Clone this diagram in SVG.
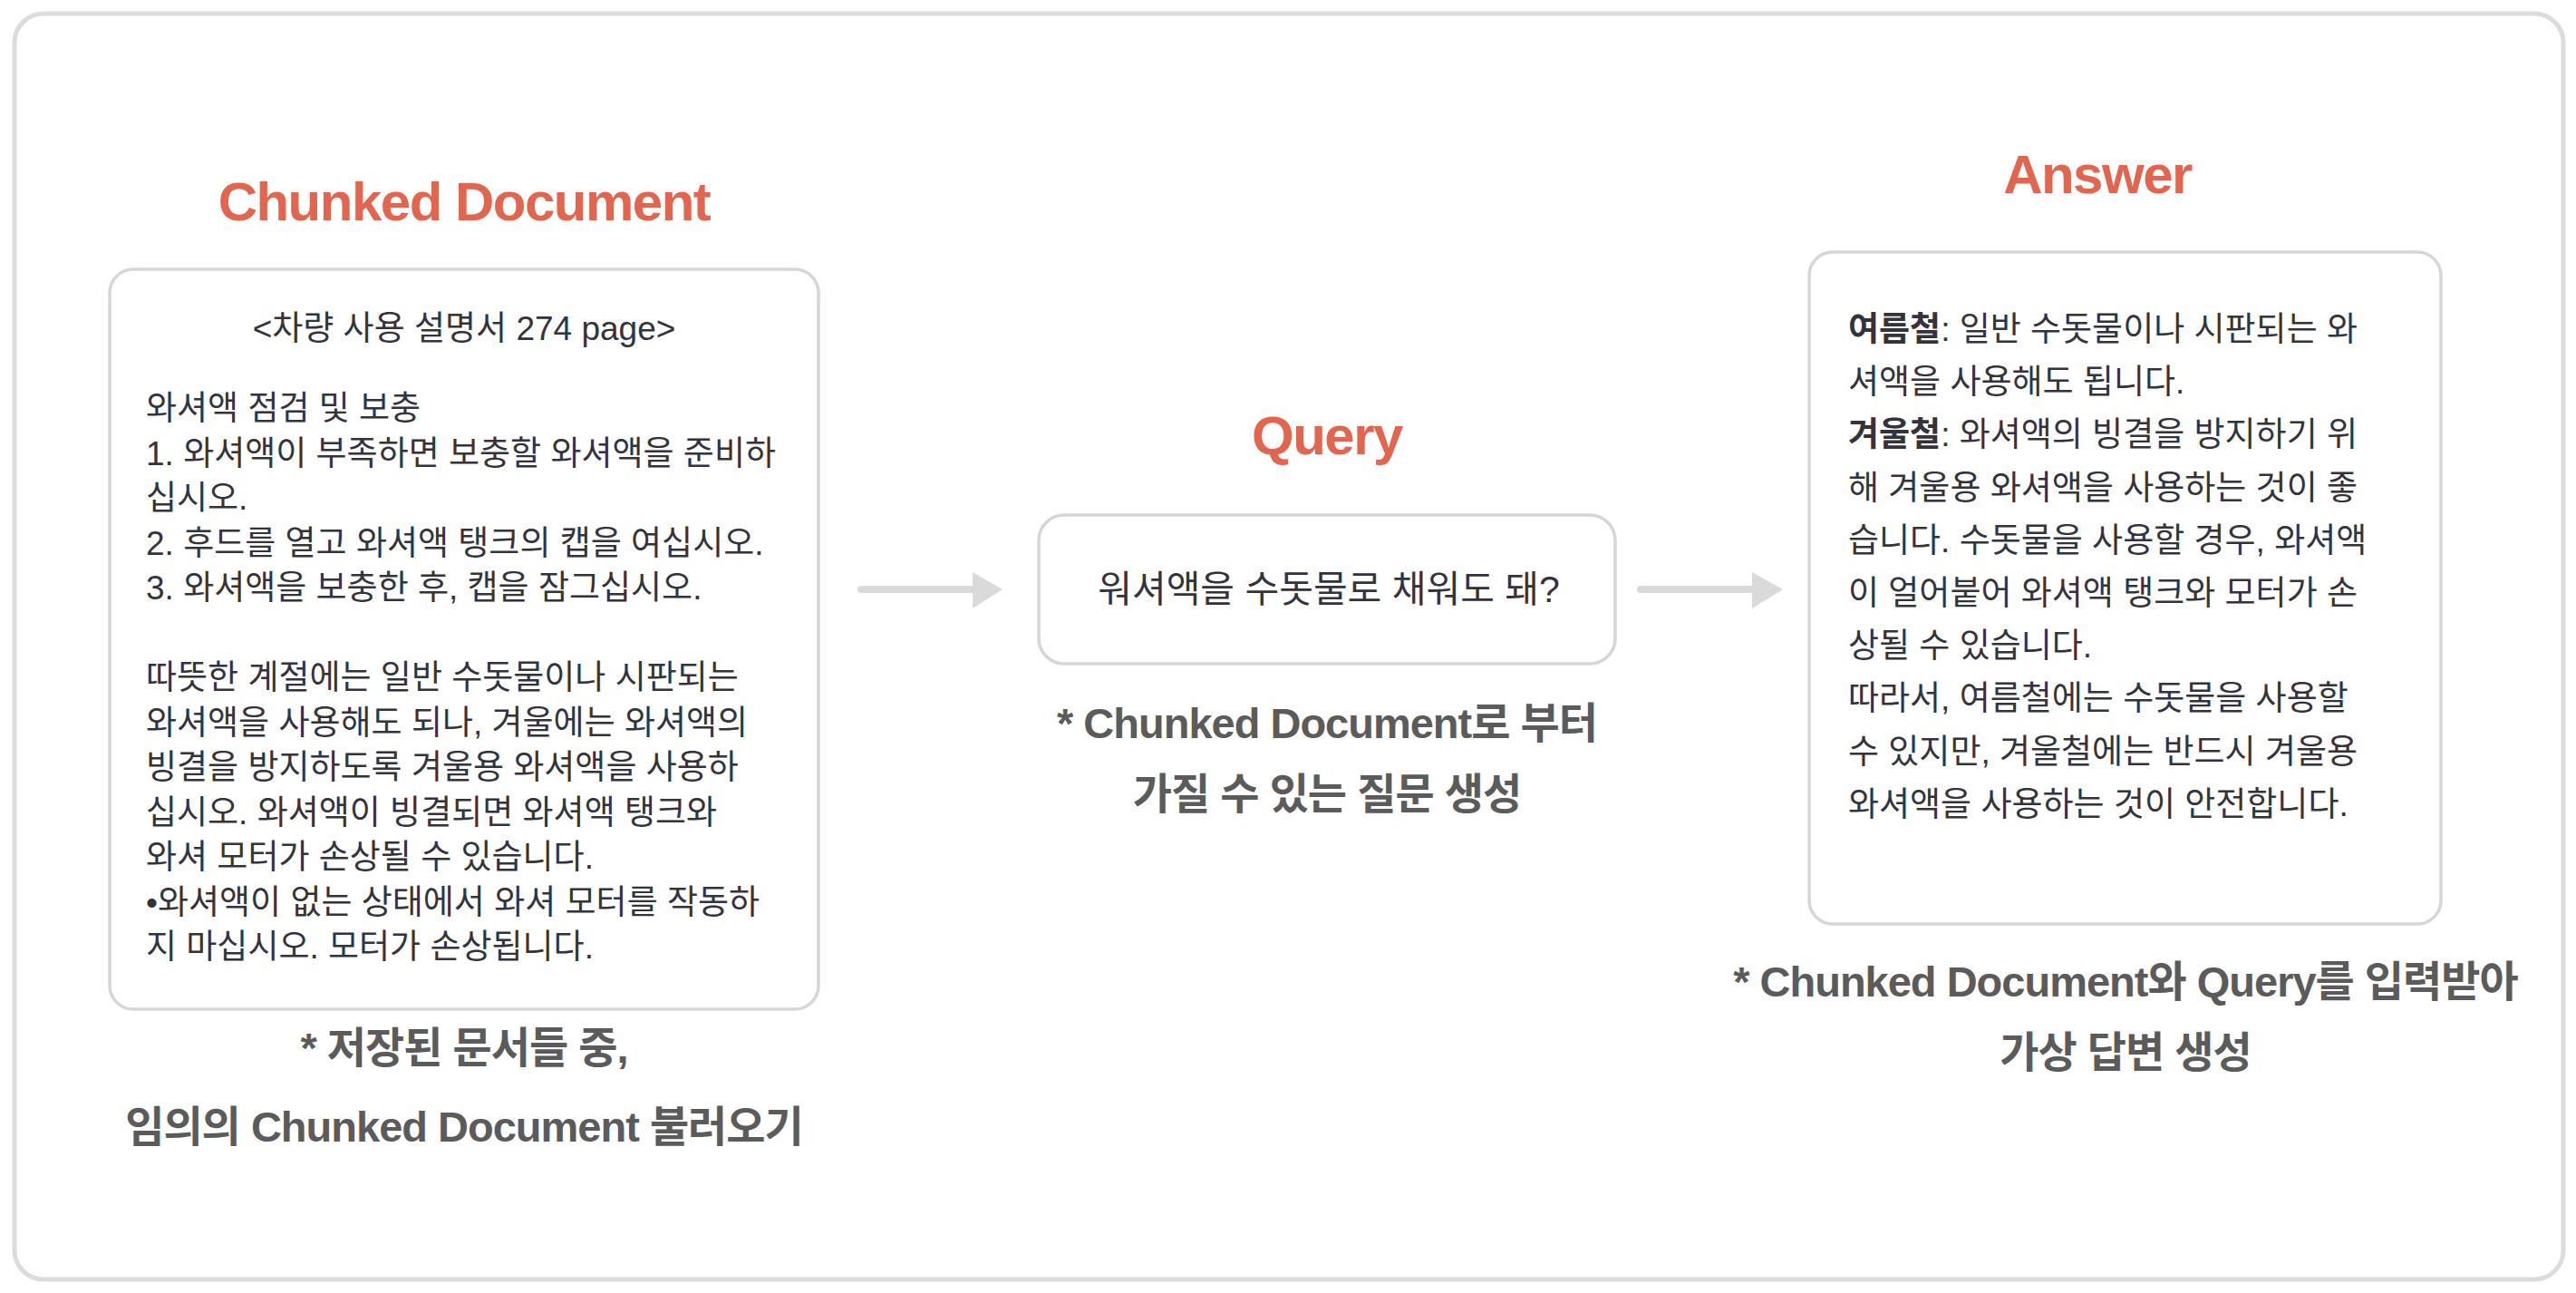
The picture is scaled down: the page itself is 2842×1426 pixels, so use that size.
<svg xmlns="http://www.w3.org/2000/svg" width="2842" height="1426" viewBox="0 0 2842 1426">
<style>
.title{font-family:"Liberation Sans","Noto Sans CJK KR",sans-serif;font-weight:bold;font-size:60px;fill:#E2654F;letter-spacing:-1.5px;text-anchor:middle}
.box{fill:#ffffff;stroke:#d6d6d6;stroke-width:3.5}
.body{font-family:"Liberation Sans","Noto Sans CJK KR",sans-serif;font-size:37px;fill:#33333d}
.qtext{font-family:"Liberation Sans","Noto Sans CJK KR",sans-serif;font-size:41px;fill:#33333d;text-anchor:middle}
.ans{font-family:"Liberation Sans","Noto Sans CJK KR",sans-serif;font-size:37px;fill:#33333d}
.cap{font-family:"Liberation Sans","Noto Sans CJK KR",sans-serif;font-weight:bold;font-size:47px;fill:#5b5b5b;letter-spacing:-1px;text-anchor:middle}
.arrow{stroke:#dadada;stroke-width:8;fill:none;stroke-linecap:round}
.head{fill:#dadada}
</style>
<rect x="0" y="0" width="2842" height="1426" fill="#ffffff"/>
<rect id="frame" x="16" y="15" width="2812" height="1396" rx="32" fill="none" stroke="#dcdcdc" stroke-width="5"/>

<g id="chunked-document">
<text class="title" x="512" y="243">Chunked Document</text>
<rect class="box" x="121" y="297" width="782" height="816" rx="26"/>
<text class="body" x="512" y="375" text-anchor="middle">&lt;차량 사용 설명서 274 page&gt;</text>
<text class="body" x="161" y="463">와셔액 점검 및 보충</text>
<text class="body" x="161" y="513">1. 와셔액이 부족하면 보충할 와셔액을 준비하</text>
<text class="body" x="161" y="562">십시오.</text>
<text class="body" x="161" y="612">2. 후드를 열고 와셔액 탱크의 캡을 여십시오.</text>
<text class="body" x="161" y="661">3. 와셔액을 보충한 후, 캡을 잠그십시오.</text>
<text class="body" x="161" y="760">따뜻한 계절에는 일반 수돗물이나 시판되는</text>
<text class="body" x="161" y="810">와셔액을 사용해도 되나, 겨울에는 와셔액의</text>
<text class="body" x="161" y="859">빙결을 방지하도록 겨울용 와셔액을 사용하</text>
<text class="body" x="161" y="909">십시오. 와셔액이 빙결되면 와셔액 탱크와</text>
<text class="body" x="161" y="958">와셔 모터가 손상될 수 있습니다.</text>
<text class="body" x="161" y="1008">•와셔액이 없는 상태에서 와셔 모터를 작동하</text>
<text class="body" x="161" y="1057">지 마십시오. 모터가 손상됩니다.</text>
<text class="cap" x="512" y="1172">* 저장된 문서들 중,</text>
<text class="cap" x="512" y="1259">임의의 Chunked Document 불러오기</text>
</g>

<g id="query">
<text class="title" x="1464" y="501">Query</text>
<rect class="box" x="1146" y="568" width="636" height="164" rx="28"/>
<text class="qtext" x="1466" y="664">워셔액을 수돗물로 채워도 돼?</text>
<text class="cap" x="1464" y="814">* Chunked Document로 부터</text>
<text class="cap" x="1464" y="892">가질 수 있는 질문 생성</text>
</g>

<g id="answer">
<text class="title" x="2314" y="213">Answer</text>
<rect class="box" x="1996" y="278" width="697" height="741" rx="26"/>
<text class="ans" x="2039" y="376"><tspan font-weight="bold">여름철</tspan>: 일반 수돗물이나 시판되는 와</text>
<text class="ans" x="2039" y="434">셔액을 사용해도 됩니다.</text>
<text class="ans" x="2039" y="492"><tspan font-weight="bold">겨울철</tspan>: 와셔액의 빙결을 방지하기 위</text>
<text class="ans" x="2039" y="551">해 겨울용 와셔액을 사용하는 것이 좋</text>
<text class="ans" x="2039" y="609">습니다. 수돗물을 사용할 경우, 와셔액</text>
<text class="ans" x="2039" y="667">이 얼어붙어 와셔액 탱크와 모터가 손</text>
<text class="ans" x="2039" y="725">상될 수 있습니다.</text>
<text class="ans" x="2039" y="783">따라서, 여름철에는 수돗물을 사용할</text>
<text class="ans" x="2039" y="842">수 있지만, 겨울철에는 반드시 겨울용</text>
<text class="ans" x="2039" y="900">와셔액을 사용하는 것이 안전합니다.</text>
<text class="cap" x="2345" y="1099">* Chunked Document와 Query를 입력받아</text>
<text class="cap" x="2345" y="1177">가상 답변 생성</text>
</g>

<g id="connectors">
<g id="arrow-doc-query">
<line class="arrow" x1="950" y1="650" x2="1078" y2="650"/>
<polygon class="head" points="1073,631 1106,650 1073,671"/>
</g>
<g id="arrow-query-answer">
<line class="arrow" x1="1810" y1="650" x2="1938" y2="650"/>
<polygon class="head" points="1933,631 1967,650 1933,671"/>
</g>
</g>
</svg>
